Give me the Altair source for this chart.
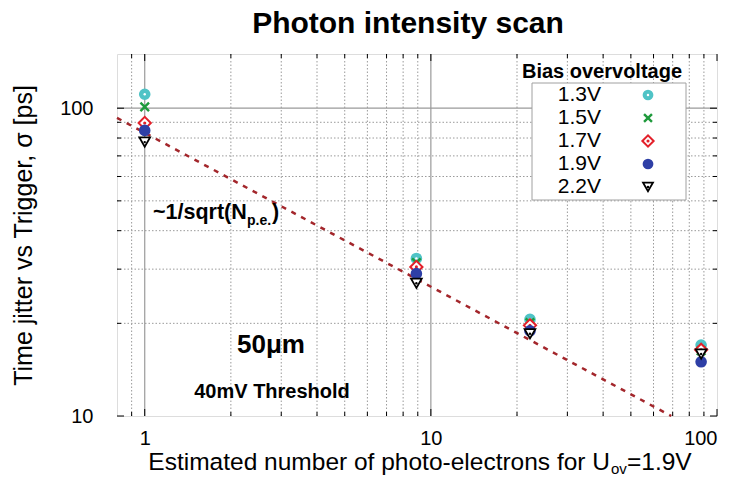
import altair as alt
import pandas as pd

# ---------------- data ----------------
x_pe = [1.0, 8.9, 22.2, 88.0]
voltages = ["1.3V", "1.5V", "1.7V", "1.9V", "2.2V"]
jitter_13 = [111.0, 32.5, 20.6, 17.0]
jitter_15 = [101.0, 31.5, 20.1, 16.3]
jitter_17 = [89.5, 30.5, 19.7, 16.4]
jitter_19 = [84.7, 29.0, 18.9, 15.0]
jitter_22 = [77.6, 27.0, 18.5, 15.9]

fit_x = [0.8, 69.2]
fit_y = [93.0, 10.0]

x_major = [1, 10]
x_minor = [0.9, 2, 3, 4, 5, 6, 7, 8, 9, 20, 30, 40, 50, 60, 70, 80, 90]
y_major = [100]
y_minor = [20, 30, 40, 50, 60, 70, 80, 90]
x_tick_major = [1, 10, 100]
y_tick_major = [10, 100]

W, H = 600, 362
FONT = "Liberation Sans"

xs = alt.Scale(type="log", domain=[0.8, 100], nice=False)
ys = alt.Scale(type="log", domain=[10, 150], nice=False)

xaxis = alt.Axis(values=[1, 10, 100], format="d", labelFont=FONT, labelFontSize=20,
                 labelColor="black", ticks=False, tickSize=0, domain=False, grid=False,
                 labelPadding=12, title=None)
yaxis = alt.Axis(values=[10, 100], format="d", labelFont=FONT, labelFontSize=20,
                 labelColor="black", ticks=False, tickSize=0, domain=False, grid=False,
                 labelPadding=24, title="Time jitter vs Trigger, σ [ps]",
                 titleFont=FONT, titleFontSize=25, titleFontWeight="normal",
                 titleColor="black", titleX=-94, titleY=H / 2, titleAngle=-90,
                 titleAlign="center", titleBaseline="middle")

X = lambda f: alt.X(f"{f}:Q", scale=xs, axis=xaxis)
Y = lambda f: alt.Y(f"{f}:Q", scale=ys, axis=yaxis)

# ---------------- grid ----------------
gx_minor = alt.Chart(pd.DataFrame({"x": x_minor})).mark_rule(
    color="#9a9a9a", strokeDash=[1.5, 2], strokeWidth=1).encode(x=X("x"))
gy_minor = alt.Chart(pd.DataFrame({"y": y_minor})).mark_rule(
    color="#9a9a9a", strokeDash=[1.5, 2], strokeWidth=1).encode(y=Y("y"))
gx_major = alt.Chart(pd.DataFrame({"x": x_major})).mark_rule(
    color="#9a9a9a", strokeWidth=1.2).encode(x=X("x"))
gy_major = alt.Chart(pd.DataFrame({"y": y_major})).mark_rule(
    color="#9a9a9a", strokeWidth=1.2).encode(y=Y("y"))

# ---------------- inward ticks on all four sides ----------------
ticks = []
for vals, ln in [(x_tick_major, 7), (x_minor, 4)]:
    d = pd.DataFrame({"x": vals})
    ticks.append(alt.Chart(d).mark_rule(color="black", strokeWidth=1).encode(
        x=X("x"), y=alt.value(H), y2=alt.value(H - ln)))
    ticks.append(alt.Chart(d).mark_rule(color="black", strokeWidth=1).encode(
        x=X("x"), y=alt.value(0), y2=alt.value(ln)))
for vals, ln in [(y_tick_major, 7), (y_minor, 4)]:
    d = pd.DataFrame({"y": vals})
    ticks.append(alt.Chart(d).mark_rule(color="black", strokeWidth=1).encode(
        y=Y("y"), x=alt.value(0), x2=alt.value(ln)))
    ticks.append(alt.Chart(d).mark_rule(color="black", strokeWidth=1).encode(
        y=Y("y"), x=alt.value(W), x2=alt.value(W - ln)))

# ---------------- fit line ----------------
fit = alt.Chart(pd.DataFrame({"x": fit_x, "y": fit_y})).mark_line(
    color="#a3262b", strokeDash=[5, 6], strokeWidth=2.5).encode(x=X("x"), y=Y("y"))

# ---------------- data series ----------------
series = [jitter_13, jitter_15, jitter_17, jitter_19, jitter_22]
XPATH = "M-0.8,-0.8L0.8,0.8M0.8,-0.8L-0.8,0.8"
styles = [
    [dict(shape="circle", filled=True, color="#4fc3c6", opacity=1, size=135),
     dict(shape="circle", filled=True, color="white", opacity=1, size=6)],
    [dict(shape=XPATH, filled=False, color="#1f9a3c", strokeWidth=2.4, opacity=1, size=115)],
    [dict(shape="diamond", filled=False, color="#e3202a", fill="white", fillOpacity=1,
          strokeWidth=2, opacity=1, size=150),
     dict(shape="circle", filled=True, color="#e3202a", opacity=1, size=10)],
    [dict(shape="circle", filled=True, color="#2e3fa6", opacity=1, size=135)],
    [dict(shape="triangle-down", filled=False, color="black", fill="white", fillOpacity=1,
          strokeWidth=1.8, opacity=1, size=115),
     dict(shape="circle", filled=True, color="black", opacity=1, size=6)],
]

points = []
for v, vals, sty in zip(voltages, series, styles):
    d = pd.DataFrame({"x": x_pe, "y": vals, "bias": v})
    for s in sty:
        points.append(alt.Chart(d).mark_point(**s).encode(x=X("x"), y=Y("y")))

# ---------------- legend (built by hand: labels left, symbols right) ----------------
legend = [
    alt.Chart(pd.DataFrame({"a": [0]})).mark_rect(
        fill="white", stroke="#a0a0a0", strokeWidth=1).encode(
        x=alt.value(415), x2=alt.value(569), y=alt.value(29), y2=alt.value(146)),
    alt.Chart(pd.DataFrame({"t": ["Bias overvoltage"]})).mark_text(
        font=FONT, fontSize=20, fontWeight="bold", color="black", align="center",
        baseline="middle").encode(text="t:N", x=alt.value(485), y=alt.value(18)),
]
for i, (v, sty) in enumerate(zip(voltages, styles)):
    yy = 41 + i * 23
    legend.append(alt.Chart(pd.DataFrame({"t": [v]})).mark_text(
        font=FONT, fontSize=21, color="black", align="right", baseline="middle").encode(
        text="t:N", x=alt.value(484), y=alt.value(yy)))
    for s in sty:
        s2 = dict(s)
        s2["size"] = s["size"] * 0.85 if s["size"] > 20 else s["size"]
        legend.append(alt.Chart(pd.DataFrame({"t": [v]})).mark_point(**s2).encode(
            x=alt.value(531), y=alt.value(yy)))

# ---------------- annotations ----------------
def txt(t, **kw):
    return alt.Chart(pd.DataFrame({"t": [t]})).mark_text(font=FONT, color="black", **kw)

annos = [
    txt("Photon intensity scan", fontSize=30, fontWeight="bold", align="center",
        baseline="top").encode(text="t:N", x=alt.value(291), y=alt.value(-45)),
    # x-axis title with subscript
    txt("Estimated number of photo-electrons for U", fontSize=24.5, align="right",
        baseline="alphabetic").encode(text="t:N", x=alt.value(493), y=alt.value(416)),
    txt("ov", fontSize=15, align="left", baseline="alphabetic").encode(
        text="t:N", x=alt.value(494), y=alt.value(420)),
    txt("=1.9V", fontSize=24.5, align="left", baseline="alphabetic").encode(
        text="t:N", x=alt.value(510), y=alt.value(416)),
    # ~1/sqrt(N_p.e.)
    txt("~1/sqrt(N", fontSize=21.5, fontWeight="bold", align="left",
        baseline="alphabetic").encode(text="t:N", x=alt.value(36), y=alt.value(165)),
    txt("p.e.", fontSize=14, fontWeight="bold", align="left",
        baseline="alphabetic").encode(text="t:N", x=alt.value(130), y=alt.value(171)),
    txt(")", fontSize=21.5, fontWeight="bold", align="left",
        baseline="alphabetic").encode(text="t:N", x=alt.value(155), y=alt.value(165)),
    txt("50μm", fontSize=26, fontWeight="bold", align="center",
        baseline="middle").encode(text="t:N", x=alt.value(154), y=alt.value(291)),
    txt("40mV Threshold", fontSize=20, fontWeight="bold", align="center",
        baseline="middle").encode(text="t:N", x=alt.value(155), y=alt.value(338)),
]

chart = alt.layer(
    gx_minor, gy_minor, gx_major, gy_major, *ticks, *legend, fit, *points, *annos
).properties(
    width=W, height=H,
    autosize=alt.AutoSizeParams(type="none"),
    padding={"left": 109, "top": 46, "right": 15, "bottom": 62},
).configure_view(stroke="black", strokeWidth=1.3).configure(background="white")

chart.save("out.html", embed_options={"renderer": "svg", "actions": False})
